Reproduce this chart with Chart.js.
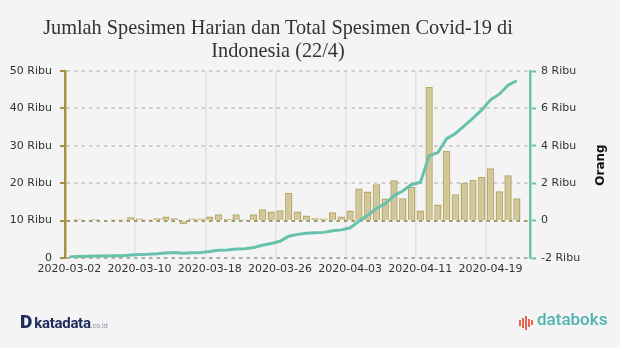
<!DOCTYPE html>
<html>
<head>
<meta charset="utf-8">
<script src="https://cdn.jsdelivr.net/npm/chart.js@4.4.0/dist/chart.umd.min.js"></script>
<style>
  body { margin: 0; background: #f4f4f4; }
  #wrap { position: relative; width: 620px; height: 348px; background: #f4f4f4; overflow: hidden; }
  #judul {
    position: absolute; left: 0; top: 16px; width: 556px;
    text-align: center; font-family: "Liberation Serif", serif; font-size: 20.3px;
    line-height: 23px; color: #333;
  }
  #kd { position: absolute; left: 20px; top: 310px; font-family: Roboto, sans-serif; color: #1d2b5c; white-space: nowrap; }
  #kd .d { font-weight: 900; font-size: 19px; margin-right: 2px; }
  #kd .nm { font-weight: 700; font-size: 15px; letter-spacing: -0.3px; }
  #kd .co { font-size: 7px; color: #8a8fa3; }
  #db { position: absolute; left: 519px; top: 309px; font-family: Roboto, sans-serif; color: #4eb3ad; font-size: 17px; font-weight: 500; white-space: nowrap; }
  #db .ic { display: inline-block; vertical-align: -2px; margin-right: 3px; }
  #db .ic i { display: inline-block; width: 2px; background: #e8654f; margin-right: 1px; vertical-align: middle; }
</style>
</head>
<body>
<div id="wrap">
  <canvas id="grafik"></canvas>
  <div id="judul">Jumlah Spesimen Harian dan Total Spesimen Covid-19 di<br>Indonesia (22/4)</div>
  <div id="kd"><span class="d">D</span><span class="nm">katadata</span><span class="co">.co.id</span></div>
  <div id="db"><span class="ic"><i style="height:6px"></i><i style="height:10px"></i><i style="height:14px"></i><i style="height:8px"></i><i style="height:5px"></i></span>databoks</div>
</div>
<script>
// tanggal 2 Maret - 23 April 2020 (23/4 belum ada data)
const tanggal = [
  "2020-03-02","2020-03-03","2020-03-04","2020-03-05","2020-03-06","2020-03-07","2020-03-08","2020-03-09",
  "2020-03-10","2020-03-11","2020-03-12","2020-03-13","2020-03-14","2020-03-15","2020-03-16","2020-03-17",
  "2020-03-18","2020-03-19","2020-03-20","2020-03-21","2020-03-22","2020-03-23","2020-03-24","2020-03-25",
  "2020-03-26","2020-03-27","2020-03-28","2020-03-29","2020-03-30","2020-03-31","2020-04-01","2020-04-02",
  "2020-04-03","2020-04-04","2020-04-05","2020-04-06","2020-04-07","2020-04-08","2020-04-09","2020-04-10",
  "2020-04-11","2020-04-12","2020-04-13","2020-04-14","2020-04-15","2020-04-16","2020-04-17","2020-04-18",
  "2020-04-19","2020-04-20","2020-04-21","2020-04-22","2020-04-23"
];

// spesimen harian (sumbu kanan)
const spesimenHarian = [
  0, 70, 0, 70, 0, 60, 60, 180,
  110, 60, 130, 220, 130, -180, 110, 110,
  220, 345, 100, 345, 60, 345, 610, 480,
  560, 1470, 480, 270, 120, 115, 450, 225,
  545, 1720, 1560, 1940, 1180, 2160, 1190, 1800,
  545, 7140, 865, 3720, 1405, 2015, 2165, 2325,
  2800, 1565, 2420, 1195, null
];

// total spesimen (sumbu kiri)
const totalSpesimen = [
  300, 370, 440, 510, 510, 570, 630, 810,
  920, 980, 1110, 1330, 1460, 1280, 1390, 1500,
  1720, 2070, 2170, 2410, 2470, 2800, 3420, 3900,
  4460, 5820, 6320, 6600, 6750, 6850, 7300, 7520,
  8080, 9800, 11400, 13300, 14500, 16700, 17900, 19650,
  20200, 27300, 28200, 31900, 33300, 35300, 37400, 39600,
  42300, 43800, 46200, 47400, null
];

const emas = "#a8923f";
const hijau = "#6cc3b0";
const fontAxis = { family: "DejaVu Sans", size: 11 };

const ribu = (v) => (v === 0 ? "0" : v / 1000 + " Ribu");

// judul sumbu kanan, dibaca dari bawah ke atas
const judulKanan = {
  id: "judulKanan",
  afterDraw(chart) {
    const ctx = chart.ctx;
    ctx.save();
    ctx.translate(601, 165);
    ctx.rotate(-Math.PI / 2);
    ctx.font = "bold 12px 'DejaVu Sans'";
    ctx.fillStyle = "#111";
    ctx.textAlign = "center";
    ctx.textBaseline = "middle";
    ctx.fillText("Orang", 0, 0);
    ctx.restore();
  },
};

new Chart(document.getElementById("grafik"), {
  type: "bar",
  data: {
    labels: tanggal,
    datasets: [
      {
        type: "line",
        label: "Total Spesimen",
        data: totalSpesimen,
        yAxisID: "y",
        borderColor: "#66c2ac",
        borderWidth: 3,
        pointRadius: 0,
        tension: 0,
        order: 0,
      },
      {
        label: "Spesimen Harian",
        data: spesimenHarian,
        yAxisID: "y1",
        backgroundColor: "#d1c79b",
        borderColor: "#b8aa68",
        borderWidth: 1.5,
        categoryPercentage: 1,
        barPercentage: 0.84,
        order: 1,
      },
    ],
  },
  options: {
    responsive: true,
    maintainAspectRatio: false,
    animation: false,
    layout: { padding: { left: 10, right: 40, top: 71, bottom: 70 } },
    plugins: {
      legend: { display: false },
      tooltip: { enabled: false },
    },
    scales: {
      x: {
        offset: true,
        afterFit: (s) => { s.height = 20; },
        border: { display: false },
        grid: {
          offset: true,
          drawTicks: false,
          lineWidth: 1.5,
          color: (c) => (c.index % 8 === 0 ? "#e2e2e2" : "rgba(0,0,0,0)"),
        },
        ticks: {
          autoSkip: false,
          maxRotation: 0,
          padding: 5,
          color: "#333",
          font: fontAxis,
          callback: (v, i) => (i % 8 === 0 ? tanggal[i] : ""),
        },
      },
      y: {
        position: "left",
        min: 0,
        max: 50000,
        afterFit: (s) => { s.width = 55; },
        // dash di sini berlaku untuk garis grid
        border: { color: emas, width: 2.5, dash: [3.5, 4] },
        grid: {
          lineWidth: 2,
          color: (c) => {
            if (c.tick.value === 10000) return "#a39a6a";
            if (c.tick.value === 0) return "#ababab";
            return "#cfcfcf";
          },
          tickLength: 5,
          tickColor: emas,
          tickWidth: 2,
          tickBorderDash: [],
        },
        ticks: {
          stepSize: 10000,
          padding: 8,
          color: "#333",
          font: fontAxis,
          callback: ribu,
        },
      },
      y1: {
        position: "right",
        min: -2000,
        max: 8000,
        afterFit: (s) => { s.width = 50; },
        border: { color: hijau, width: 2.5 },
        grid: {
          drawOnChartArea: false,
          tickLength: 6,
          tickColor: hijau,
          tickWidth: 2,
        },
        ticks: {
          stepSize: 2000,
          padding: 5,
          color: "#333",
          font: fontAxis,
          callback: ribu,
        },
      },
    },
  },
  plugins: [judulKanan],
});
</script>
</body>
</html>
